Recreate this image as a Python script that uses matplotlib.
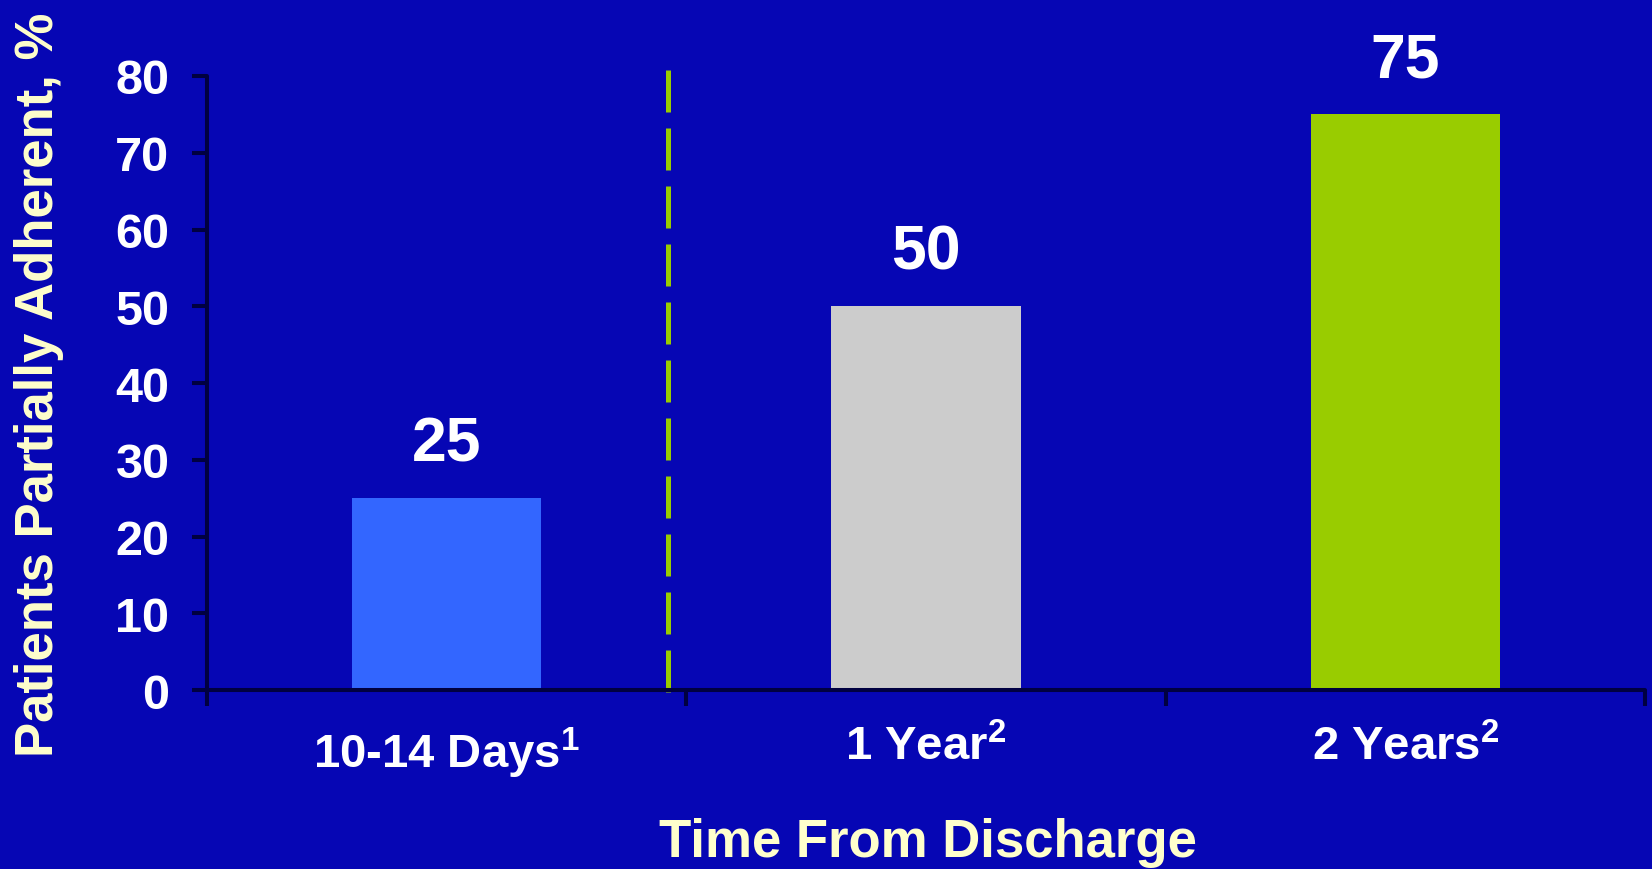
import matplotlib
matplotlib.use("Agg")
import matplotlib.pyplot as plt

# Data
categories = [r"10-14 Days$^{\mathbf{1}}$", r"1 Year$^{\mathbf{2}}$",
              r"2 Years$^{\mathbf{2}}$"]
values = [25, 50, 75]
bar_colors = ["#3366FF", "#CCCCCC", "#99CC00"]
y_ticks = [0, 10, 20, 30, 40, 50, 60, 70, 80]

BG = "#0606B4"
AXIS = "#000040"
CREAM = "#FFFFCC"

plt.rcParams["font.family"] = ["Liberation Sans", "DejaVu Sans"]
plt.rcParams["font.weight"] = "bold"
plt.rcParams["mathtext.fontset"] = "custom"
plt.rcParams["mathtext.rm"] = "Liberation Sans:bold"
plt.rcParams["mathtext.bf"] = "Liberation Sans:bold"
plt.rcParams["mathtext.default"] = "bf"

fig = plt.figure(figsize=(16.52, 8.70), dpi=100, facecolor=BG)
ax = fig.add_axes([0.1253, 0.2057, 0.8705, 0.7058], facecolor=BG)

x = list(range(len(categories)))
bars = ax.bar(x, values, width=0.395, color=bar_colors, zorder=2)

for xi, v in zip(x, values):
    ax.annotate(f"{v}", xy=(xi, v), xytext=(0, 39), textcoords="offset points",
                ha="center", va="center", color="white", fontsize=45,
                fontweight="bold", annotation_clip=False)

# Dashed separator between the short-term and long-term measurements
ax.plot([0.4625, 0.4625], [80.8, -1.2], color="#99CC00", lw=3.6,
        linestyle=(0, (8.4, 3.2)), clip_on=False, zorder=3)

ax.set_xlim(-0.5, 2.5)
ax.set_ylim(0, 80)

for side in ("top", "right"):
    ax.spines[side].set_visible(False)
for side in ("left", "bottom"):
    ax.spines[side].set_color(AXIS)
    ax.spines[side].set_linewidth(2.9)
    ax.spines[side].set_capstyle("round")
    ax.spines[side].set_zorder(4)

ax.set_yticks(y_ticks)
ax.set_yticklabels([str(t) for t in y_ticks])
ax.tick_params(axis="y", direction="out", length=11, width=2.9, color=AXIS,
               labelsize=35, labelcolor="white", pad=16)

ax.set_xticks([-0.5, 0.5, 1.5, 2.5])
ax.set_xticklabels([])
ax.set_xticks(x, minor=True)
ax.set_xticklabels(categories, minor=True)
ax.tick_params(axis="x", which="major", direction="out", length=11.5,
               width=2.9, color=AXIS)
ax.tick_params(axis="x", which="minor", length=0, labelsize=34,
               labelcolor="white", pad=25)
for lab in ax.get_xticklabels(minor=True) + ax.get_yticklabels():
    lab.set_fontweight("bold")

fig.text(39 / 1652, 1 - 385 / 870, "Patients Partially Adherent, %",
         rotation=90, ha="center", va="center", color=CREAM, fontsize=38,
         fontweight="bold")
fig.text(928 / 1652, 1 - 843 / 870, "Time From Discharge", ha="center",
         va="center", color=CREAM, fontsize=38, fontweight="bold")

fig.savefig("out.png", dpi=100, facecolor=BG)
